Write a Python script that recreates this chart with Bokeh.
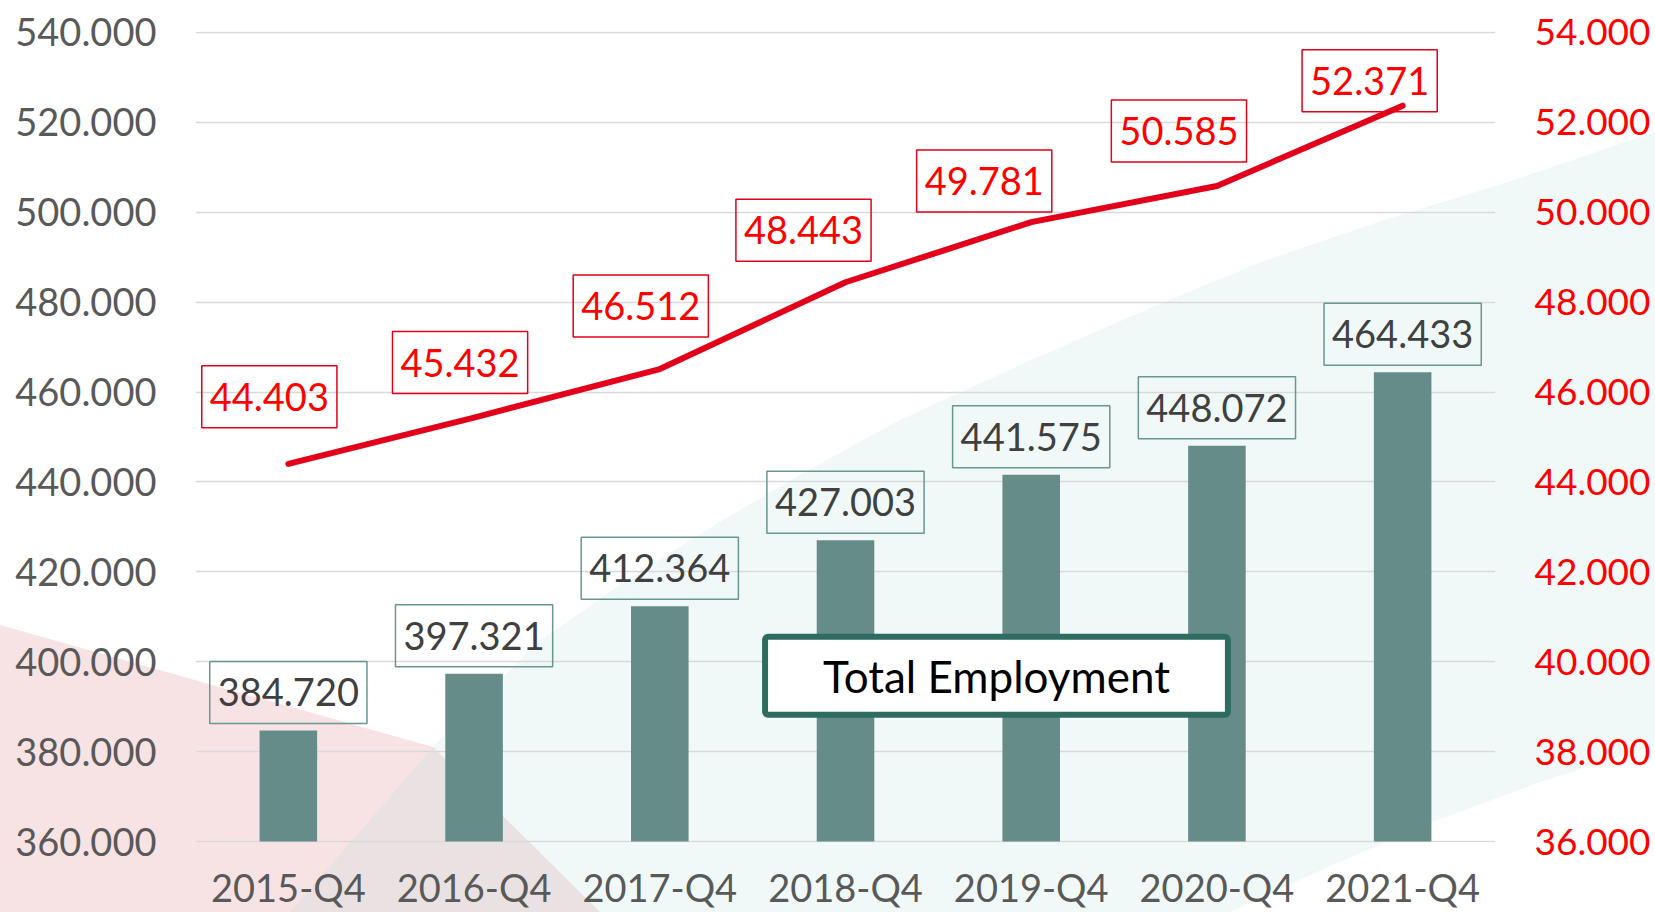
from bokeh.plotting import figure
from bokeh.models import (Range1d, LinearAxis, FixedTicker, CustomJSTickFormatter, Label)
from bokeh.embed import file_html
from bokeh.resources import INLINE

# ---------------- data ----------------
categories = ["2015-Q4", "2016-Q4", "2017-Q4", "2018-Q4", "2019-Q4", "2020-Q4", "2021-Q4"]
employment = [384720, 397321, 412364, 427003, 441575, 448072, 464433]
secondary = [44403, 45432, 46512, 48443, 49781, 50585, 52371]
left_ticks = [360000, 380000, 400000, 420000, 440000, 460000, 480000, 500000, 520000, 540000]
right_ticks = [36000, 38000, 40000, 42000, 44000, 46000, 48000, 50000, 52000, 54000]
legend_text = "Total Employment"

# ---------------- styling / label placement (screen px) ----------------
FONT = "Lato"
line_label_dx = [-19, -14, -19, -42, -47, -38, -33]
line_label_dy = [67, 55, 63, 52, 41, 55, 25]

# decorative slide background (canvas px), painted as CSS behind the transparent canvas
pink_pts = [(0, 625), (433, 747), (600, 912), (0, 912)]
teal_pts = [(290, 912), (433, 747), (537, 643), (630, 578), (718, 523), (810, 469),
            (900, 420), (1020, 365), (1141, 312), (1261, 262), (1381, 221), (1502, 184),
            (1655, 132), (1655, 745), (1540, 782), (1432, 822), (1330, 866), (1230, 912)]


def pts(lst):
    return " ".join(f"{x},{y}" for x, y in lst)


bg_svg = ("<svg xmlns='http://www.w3.org/2000/svg' width='1655' height='912'>"
          f"<polygon points='{pts(pink_pts)}' fill='rgb(248,227,228)'/>"
          f"<polygon points='{pts(teal_pts)}' fill='rgb(179,224,218)' fill-opacity='0.2'/>"
          "</svg>")
bg_url = "url(\"data:image/svg+xml;utf8," + bg_svg.replace("<", "%3C").replace(">", "%3E") + "\")"

pad = 1.0 * 20000 / 89.93  # one pixel of headroom so edge gridlines are not clipped
p = figure(x_range=categories, y_range=Range1d(left_ticks[0] - pad, left_ticks[-1] + pad),
           frame_width=1300, frame_height=811, output_backend="svg", toolbar_location=None,
           min_border_left=195, min_border_right=160, min_border_top=31, min_border_bottom=70)
p.outline_line_color = None
p.background_fill_color = None
p.border_fill_color = None
p.styles = {"background-image": bg_url, "background-repeat": "no-repeat",
            "background-color": "white"}

# axes
fmt = CustomJSTickFormatter(code="return (tick/1000).toFixed(3);")
lax = p.yaxis[0]
lax.ticker = FixedTicker(ticks=left_ticks)
lax.formatter = fmt
lax.major_label_text_color = "#595959"
lax.major_label_standoff = 39

p.extra_y_ranges = {"right": Range1d(right_ticks[0] - pad / 10, right_ticks[-1] + pad / 10)}
rax = LinearAxis(y_range_name="right", ticker=FixedTicker(ticks=right_ticks), formatter=fmt)
rax.major_label_text_color = "#FF0000"
rax.major_label_standoff = 39
p.add_layout(rax, "right")

for ax in [lax, rax, p.xaxis[0]]:
    ax.axis_line_color = None
    ax.major_tick_line_color = None
    ax.minor_tick_line_color = None
    ax.major_tick_out = 0
    ax.major_tick_in = 0
    ax.major_label_text_font = FONT
    ax.major_label_text_font_size = "38px"
rax.major_label_text_font_size = "37px"
p.xaxis[0].major_label_text_color = "#595959"
p.xaxis[0].major_label_standoff = 21

p.xgrid.visible = False
p.ygrid.ticker = FixedTicker(ticks=left_ticks)
p.ygrid.grid_line_color = "#D9D9D9"
p.ygrid.grid_line_width = 1.5

# bars
p.vbar(x=categories, top=employment, bottom=left_ticks[0], width=0.31,
       fill_color="#668C8A", line_color=None)

# line
p.line(x=categories, y=secondary, y_range_name="right", line_color="#E2001A",
       line_width=6, line_cap="round", line_join="round")

# bar labels
for i, v in enumerate(employment):
    p.add_layout(Label(x=i + 0.5, y=v, text=f"{v/1000:.3f}", y_offset=38,
                       text_align="center", text_baseline="middle",
                       text_font=FONT, text_font_size="38px", text_color="#404040",
                       border_line_color="#6A9692", border_line_width=1.5,
                       padding=dict(left=8, right=8, top=17, bottom=17)))

# line labels
for i, v in enumerate(secondary):
    p.add_layout(Label(x=i + 0.5, y=v, y_range_name="right", text=f"{v/1000:.3f}",
                       x_offset=line_label_dx[i], y_offset=line_label_dy[i],
                       text_align="center", text_baseline="middle",
                       text_font=FONT, text_font_size="38px", text_color="#FF0000",
                       border_line_color="#E2001A", border_line_width=1.5,
                       padding=dict(left=8, right=8, top=17, bottom=17)))

# series title box
p.add_layout(Label(x=4.313, y=396900, text=legend_text,
                   text_align="center", text_baseline="middle",
                   text_font=FONT, text_font_size="44px", text_color="black",
                   background_fill_color="white", border_line_color="#2E6B60",
                   border_line_width=6, border_radius=3,
                   padding=dict(left=58, right=58, top=13, bottom=13)))

open("out.html", "w").write(file_html(p, INLINE))
